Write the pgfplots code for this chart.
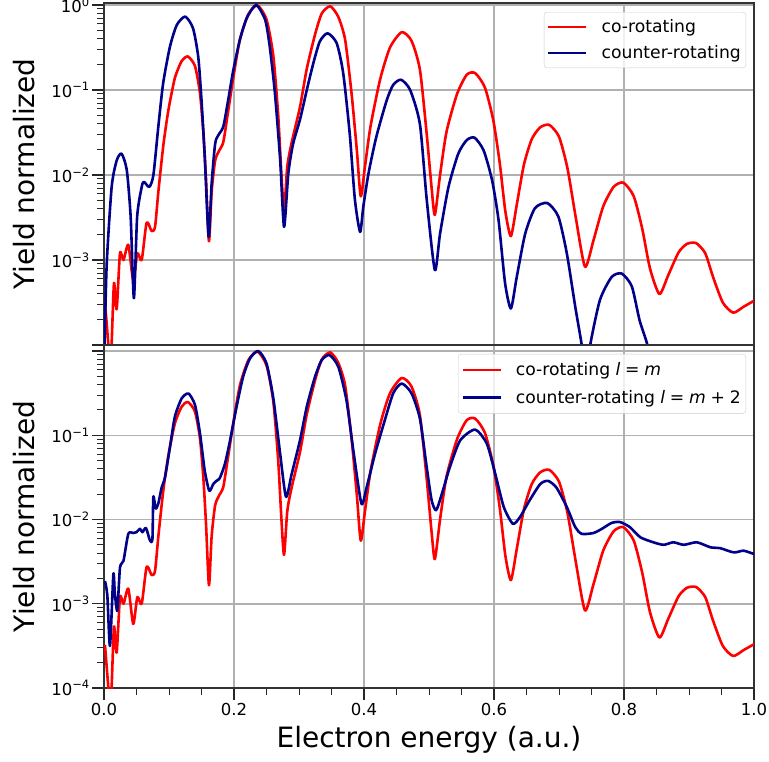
\documentclass[border=0pt]{standalone}
\usepackage{fontspec}
\setmainfont{DejaVu Sans}
\usepackage{pgfplots}
\usepackage{pgfplotstable}
\pgfplotsset{compat=1.18}
\definecolor{cored}{RGB}{255,0,0}
\definecolor{ctblue}{RGB}{0,0,139}
\definecolor{gridgray}{RGB}{176,176,176}
\definecolor{legedge}{RGB}{204,204,204}

\pgfplotstableread{
E Y
0.0015 3.24e-4
0.0067 1e-4
0.0095 5e-5
0.0118 1.05e-4
0.0154 5.37e-4
0.0195 2.63e-4
0.0246 1.2e-3
0.030 1e-3
0.0374 1.51e-3
0.045 5.75e-4
0.0513 1.2e-3
0.058 1e-3
0.0656 2.75e-3
0.0733 2.19e-3
0.0785 2.45e-3
0.0836 6.31e-3
0.0913 0.0224
0.099 0.0575
0.109 0.138
0.1195 0.219
0.129 0.248
0.140 0.191
0.1477 0.0912
0.1528 0.0316
0.157 8.71e-3
0.1615 1.66e-3
0.1656 6.31e-3
0.171 0.0148
0.1774 0.0195
0.1836 0.0245
0.191 0.0562
0.199 0.141
0.209 0.389
0.222 0.776
0.236 0.989
0.250 0.676
0.2605 0.251
0.268 0.0501
0.273 0.01
0.277 3.8e-3
0.282 0.0126
0.2887 0.024
0.3015 0.0631
0.312 0.178
0.3246 0.447
0.335 0.794
0.348 0.966
0.3605 0.724
0.371 0.389
0.381 0.0891
0.389 0.0195
0.395 5.62e-3
0.4015 0.0126
0.410 0.0372
0.425 0.135
0.440 0.316
0.458 0.479
0.473 0.380
0.486 0.174
0.4965 0.0302
0.504 7.08e-3
0.509 3.39e-3
0.517 0.01
0.527 0.0324
0.543 0.0891
0.558 0.151
0.571 0.158
0.586 0.107
0.599 0.0437
0.609 0.0135
0.6175 3.72e-3
0.626 1.91e-3
0.635 4.47e-3
0.646 0.0132
0.658 0.0263
0.671 0.0363
0.685 0.0389
0.700 0.0282
0.713 0.012
0.726 3.09e-3
0.740 8.32e-4
0.753 1.7e-3
0.768 4.27e-3
0.784 7.24e-3
0.799 8.13e-3
0.815 5.62e-3
0.828 2.34e-3
0.840 7.94e-4
0.8545 3.98e-4
0.868 6.61e-4
0.884 1.23e-3
0.897 1.55e-3
0.911 1.58e-3
0.925 1.2e-3
0.937 6.31e-4
0.952 3.16e-4
0.968 2.4e-4
0.984 2.82e-4
1.0 3.31e-4
}\redco

\pgfplotstableread{
E Y
0.0 5e-5
0.004 8.3e-4
0.0118 7.24e-3
0.0195 0.0148
0.027 0.0178
0.035 0.0115
0.041 3.24e-3
0.046 3.55e-4
0.051 3.24e-3
0.058 7.24e-3
0.0615 8.3e-3
0.0697 7.24e-3
0.076 0.01
0.0836 0.0372
0.091 0.120
0.1015 0.324
0.112 0.582
0.125 0.730
0.137 0.531
0.145 0.245
0.150 0.0759
0.155 0.0166
0.161 1.86e-3
0.1656 7.94e-3
0.171 0.0234
0.176 0.0295
0.1836 0.0372
0.191 0.0759
0.199 0.172
0.209 0.389
0.2195 0.697
0.234 1.0
0.248 0.667
0.255 0.324
0.263 0.0912
0.271 0.0151
0.277 2.45e-3
0.2836 0.0105
0.291 0.0234
0.3015 0.0447
0.312 0.1
0.322 0.206
0.332 0.372
0.344 0.465
0.358 0.355
0.368 0.158
0.378 0.0309
0.386 5.13e-3
0.394 2.14e-3
0.399 4.27e-3
0.407 0.0105
0.419 0.0282
0.435 0.0759
0.445 0.115
0.457 0.132
0.471 0.1
0.486 0.0398
0.4965 5.13e-3
0.509 7.6e-4
0.517 2.04e-3
0.530 7.24e-3
0.545 0.0178
0.558 0.0257
0.570 0.0275
0.584 0.0195
0.597 8.71e-3
0.607 2.95e-3
0.617 5.37e-4
0.626 2.69e-4
0.635 6.31e-4
0.648 2.04e-3
0.663 4.07e-3
0.682 4.68e-3
0.699 3.24e-3
0.712 1.2e-3
0.725 2.82e-4
0.735 1e-4
0.742 4e-5
0.748 1e-4
0.763 3.39e-4
0.781 6.31e-4
0.7965 6.92e-4
0.812 4.9e-4
0.824 1.95e-4
0.836 1e-4
0.845 4e-5
}\bluetop

\pgfplotstableread{
E Y
0.0015 1.86e-3
0.0051 1.26e-3
0.0092 3.16e-4
0.0144 2.24e-3
0.0167 1.32e-3
0.0205 8.32e-4
0.0246 2.69e-3
0.030 3.24e-3
0.0374 6.76e-3
0.045 6.92e-3
0.050 7.08e-3
0.0554 7.76e-3
0.059 7.08e-3
0.0646 7.94e-3
0.0708 5.62e-3
0.0745 5.89e-3
0.0759 0.0186
0.0795 0.0135
0.0836 0.0155
0.0887 0.024
0.0938 0.0316
0.1015 0.0724
0.109 0.166
0.1195 0.274
0.130 0.313
0.140 0.229
0.1477 0.105
0.155 0.038
0.162 0.0219
0.168 0.0263
0.173 0.0288
0.178 0.0309
0.186 0.0457
0.194 0.0871
0.204 0.219
0.214 0.494
0.2246 0.818
0.2374 1.0
0.250 0.713
0.2605 0.275
0.271 0.0603
0.280 0.0186
0.2887 0.0347
0.3015 0.0871
0.312 0.219
0.3246 0.494
0.335 0.782
0.347 0.895
0.3605 0.650
0.373 0.261
0.3836 0.0661
0.396 0.0155
0.404 0.024
0.417 0.0603
0.432 0.151
0.445 0.316
0.458 0.412
0.473 0.316
0.486 0.158
0.4965 0.0417
0.504 0.017
0.511 0.0129
0.520 0.0204
0.532 0.0417
0.548 0.0871
0.571 0.117
0.589 0.0794
0.602 0.0347
0.615 0.0141
0.629 8.91e-3
0.640 0.0107
0.655 0.017
0.671 0.0263
0.683 0.0288
0.696 0.024
0.712 0.0141
0.725 8.13e-3
0.735 6.76e-3
0.753 6.92e-3
0.766 7.76e-3
0.781 9.12e-3
0.794 9.33e-3
0.809 8.13e-3
0.825 6.17e-3
0.845 5.37e-3
0.861 5.01e-3
0.876 5.37e-3
0.892 5.01e-3
0.912 5.37e-3
0.933 4.68e-3
0.948 4.57e-3
0.969 4.07e-3
0.984 4.27e-3
1.0 3.89e-3
}\bluebot

\pgfplotsset{
  legend image code/.code={\draw[#1, line width=2.6pt] (0pt,0pt) -- (38pt,0pt);},
  every axis y label/.style={at={(axis description cs:-0.1231,0.5)}, rotate=90, anchor=center, font=\fontsize{28}{32}\selectfont},
  every axis x label/.style={at={(axis description cs:0.5,0)}, anchor=base, yshift=-59pt, font=\fontsize{28}{32}\selectfont},
}

\begin{document}
\begin{tikzpicture}
\path[use as bounding box] (0pt,0pt) rectangle (769pt,-761pt);
\begin{axis}[
  scale only axis, width=650pt, height=342pt,
  at={(104pt,-3pt)}, anchor=north west,
  ymode=log, xmin=0, xmax=1, ymin=1e-4, ymax=1.055,
  tick pos=left, tick align=outside,
  axis line style={black!80, line width=1.1pt},
  major tick length=12pt, minor tick length=7pt,
  every major tick/.append style={black!85, line width=1.2pt},
  every minor tick/.append style={black!85, line width=0.9pt},
  xmajorgrids, ymajorgrids,
  major grid style={gridgray, line width=1.5pt},
  ytick={1e-4,1e-3,1e-2,1e-1,1},
  minor ytick={2e-4,3e-4,4e-4,5e-4,6e-4,7e-4,8e-4,9e-4,2e-3,3e-3,4e-3,5e-3,6e-3,7e-3,8e-3,9e-3,2e-2,3e-2,4e-2,5e-2,6e-2,7e-2,8e-2,9e-2,2e-1,3e-1,4e-1,5e-1,6e-1,7e-1,8e-1,9e-1},
  yticklabels={,10\textsuperscript{−3},10\textsuperscript{−2},10\textsuperscript{−1},10\textsuperscript{0}},
  tick label style={font=\fontsize{16.5}{19}\selectfont},
  yticklabel style={inner sep=2pt},
  xtick={0.2,0.4,0.6,0.8}, xticklabels={}, xtick style={draw=none},
  ylabel={Yield normalized},
  legend cell align=left,
  legend style={font=\fontsize{17.2}{20}\selectfont, draw=legedge, rounded corners=3pt, fill=white, fill opacity=0.8, text opacity=1, inner xsep=3pt, inner ysep=5.5pt, nodes={inner sep=2pt}, row sep=7.5pt, column sep=12pt, anchor=north east, at={(axis description cs:0.9877,0.9737)}},
]
\addplot[cored, line width=2.6pt, smooth, tension=0.4, line join=round] table[x=E,y=Y] {\redco};
\addlegendentry{co-rotating}
\addplot[ctblue, line width=2.6pt, smooth, tension=0.4, line join=round] table[x=E,y=Y] {\bluetop};
\addlegendentry{counter-rotating}
\end{axis}
\begin{axis}[
  scale only axis, width=650pt, height=343pt,
  at={(104pt,-345pt)}, anchor=north west,
  ymode=log, xmin=0, xmax=1, ymin=1e-4, ymax=1.18,
  tick pos=left, tick align=outside,
  axis line style={black!80, line width=1.1pt},
  major tick length=12pt, minor tick length=7pt,
  every major tick/.append style={black!85, line width=1.2pt},
  every minor tick/.append style={black!85, line width=0.9pt},
  xmajorgrids, ymajorgrids,
  major grid style={gridgray, line width=1.5pt},
  ytick={1e-4,1e-3,1e-2,1e-1,1},
  minor ytick={2e-4,3e-4,4e-4,5e-4,6e-4,7e-4,8e-4,9e-4,2e-3,3e-3,4e-3,5e-3,6e-3,7e-3,8e-3,9e-3,2e-2,3e-2,4e-2,5e-2,6e-2,7e-2,8e-2,9e-2,2e-1,3e-1,4e-1,5e-1,6e-1,7e-1,8e-1,9e-1},
  yticklabels={10\textsuperscript{−4},10\textsuperscript{−3},10\textsuperscript{−2},10\textsuperscript{−1},},
  tick label style={font=\fontsize{16.5}{19}\selectfont},
  yticklabel style={inner sep=2pt},
  xtick={0,0.2,0.4,0.6,0.8,1.0}, xticklabels={0.0,0.2,0.4,0.6,0.8,1.0},
  minor xtick={0.05,0.1,0.15,0.25,0.3,0.35,0.45,0.5,0.55,0.65,0.7,0.75,0.85,0.9,0.95},
  ylabel={Yield normalized},
  xlabel={Electron energy (a.u.)},
  legend cell align=left,
  legend style={font=\fontsize{17.2}{20}\selectfont, draw=legedge, rounded corners=3pt, fill=white, fill opacity=0.8, text opacity=1, inner xsep=3pt, inner ysep=6.5pt, nodes={inner sep=2pt}, row sep=9pt, column sep=12pt, anchor=north east, at={(axis description cs:0.9877,0.9738)}},
]
\addplot[cored, line width=2.6pt, smooth, tension=0.4, line join=round] table[x=E,y=Y] {\redco};
\addlegendentry{co-rotating \textit{l}\;=\;\textit{m}}
\addplot[ctblue, line width=2.6pt, smooth, tension=0.4, line join=round] table[x=E,y=Y] {\bluebot};
\addlegendentry{counter-rotating \textit{l}\;=\;\textit{m}\;+\;2}
\end{axis}
\end{tikzpicture}
\end{document}
